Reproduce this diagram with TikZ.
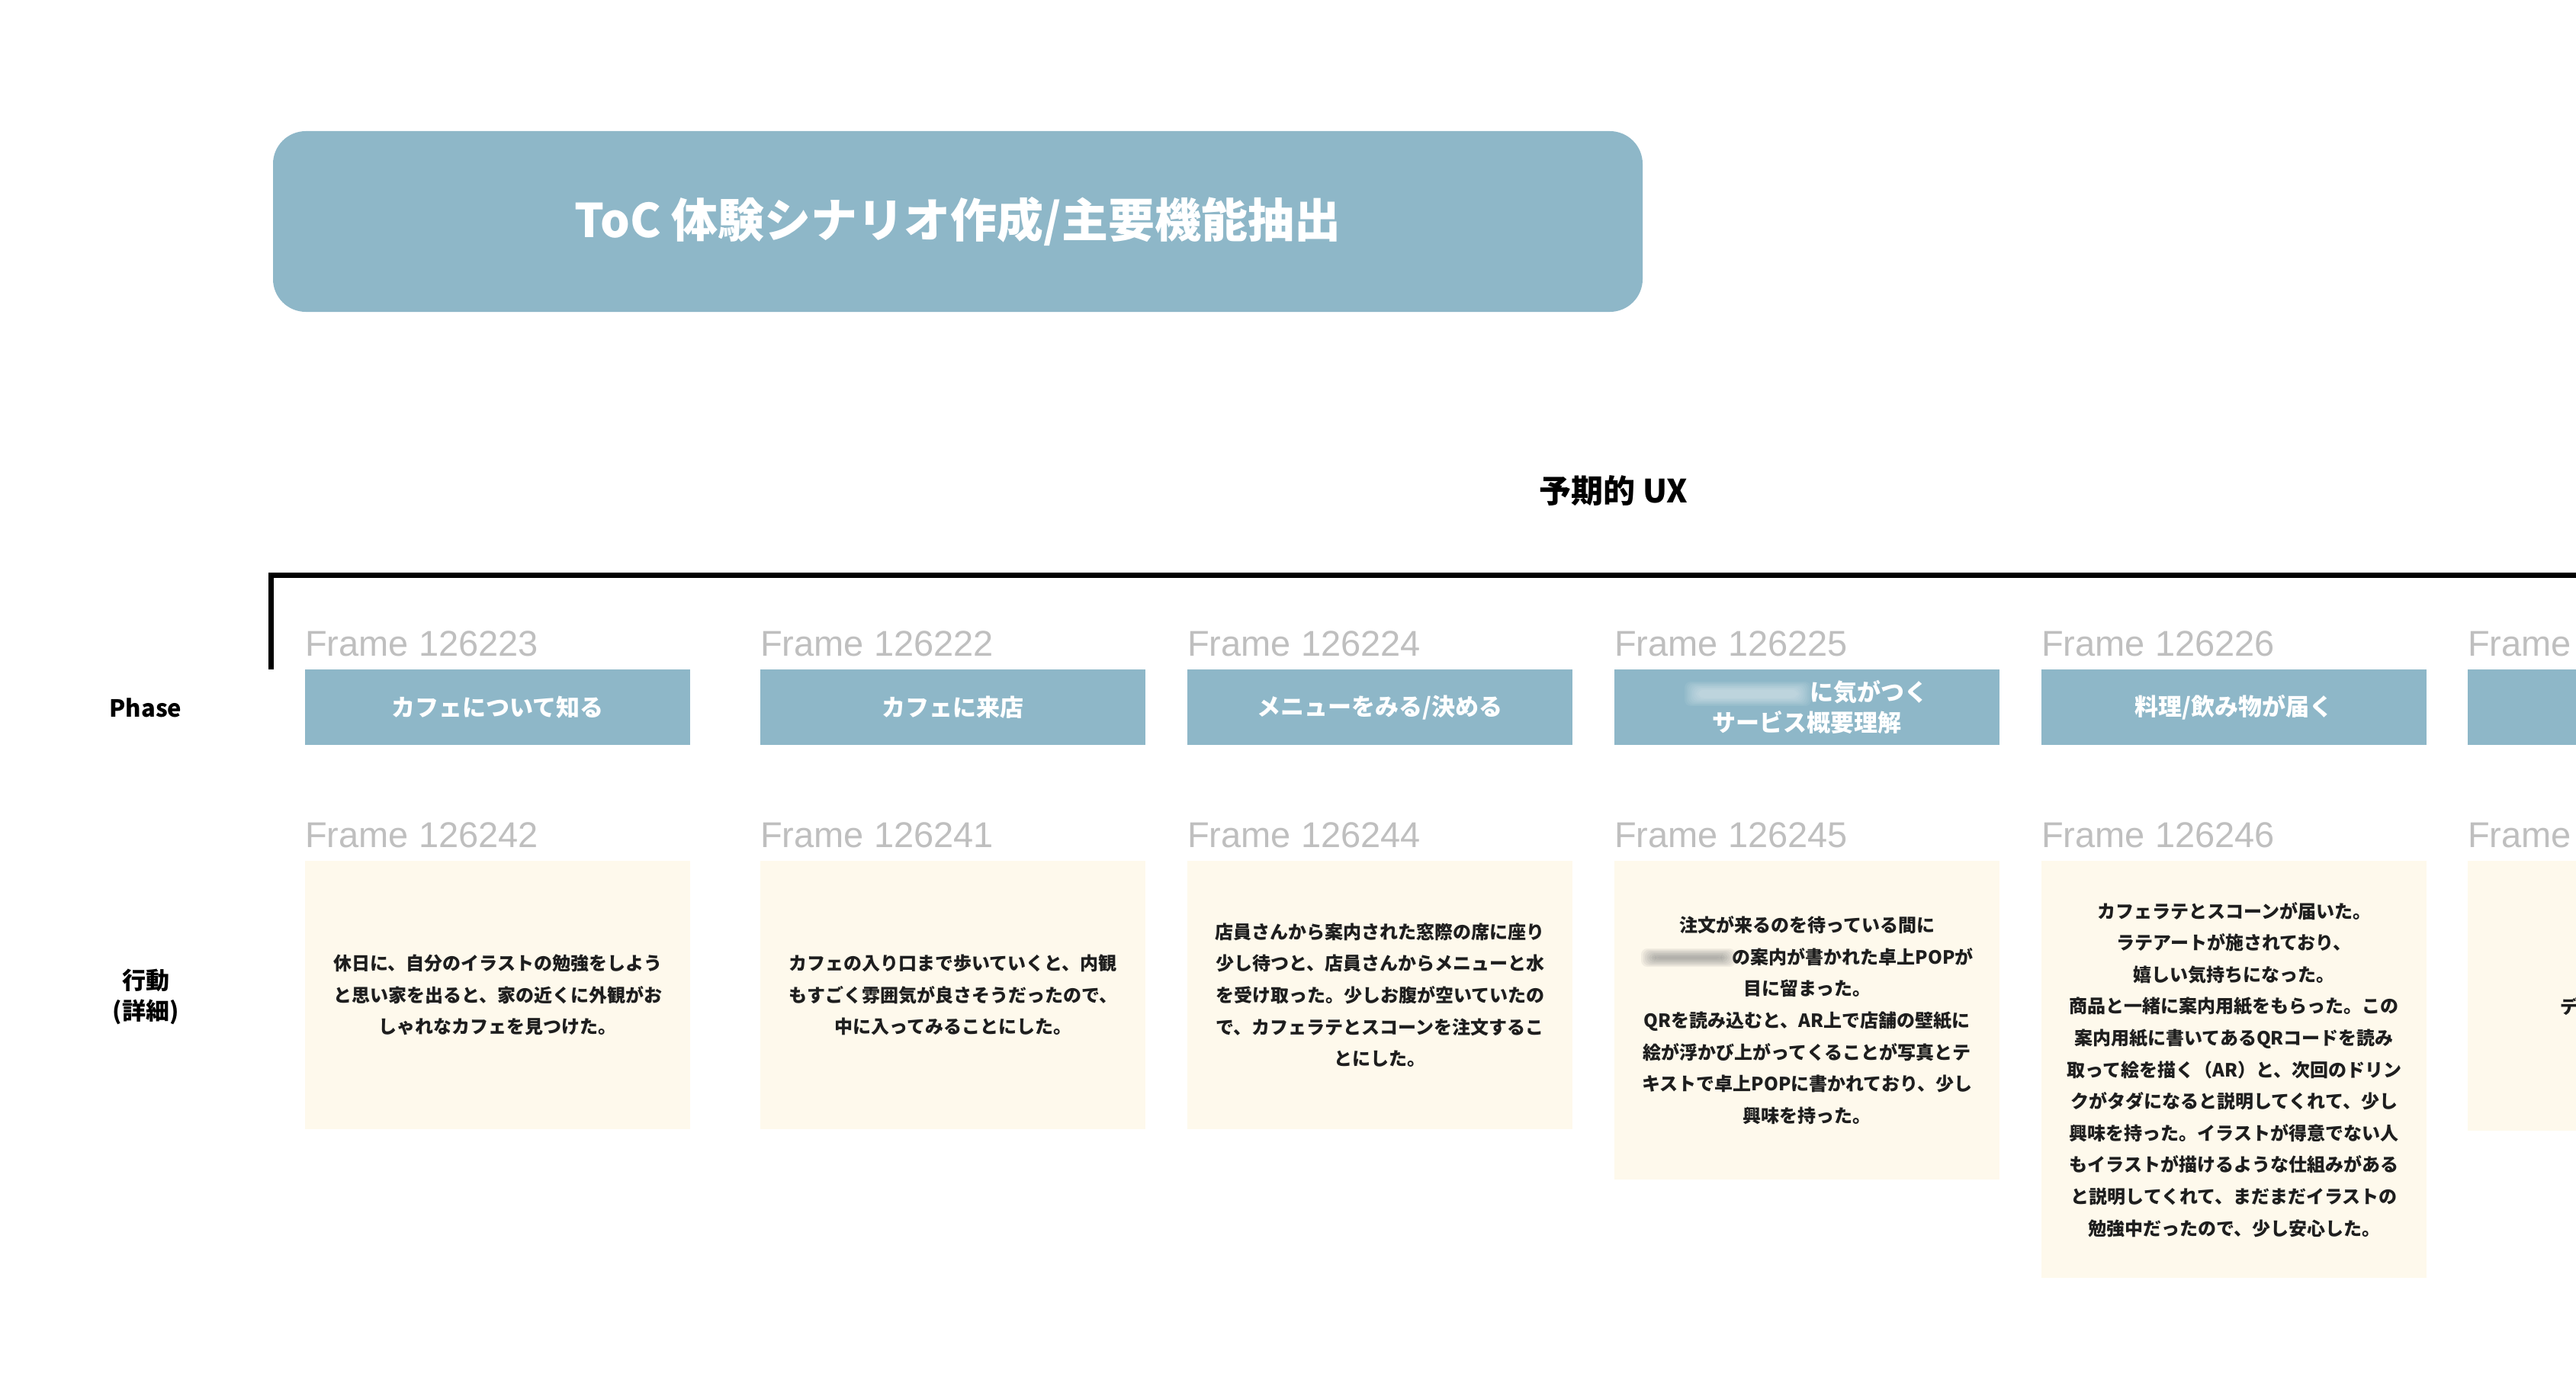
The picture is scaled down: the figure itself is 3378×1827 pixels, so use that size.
\documentclass[tikz,border=0pt]{standalone}
\usepackage{fontspec}
\setmainfont{Noto Sans CJK JP}
\newfontfamily\framefont{Liberation Sans}
\definecolor{phaseblue}{HTML}{8EB7C8}
\definecolor{cream}{HTML}{FEF9EC}
\definecolor{framegray}{HTML}{BFBFBF}
\definecolor{acttext}{HTML}{1E1E1E}
\tikzset{
  titlebox/.style={fill=phaseblue, rounded corners=43pt, minimum width=1796pt, minimum height=237pt, inner sep=0pt, text=white, font=\fontsize{61}{70}\selectfont\bfseries},
  phasebox/.style={fill=phaseblue, minimum width=505pt, minimum height=99pt, inner sep=0pt, anchor=north west, text=white, align=center, font=\fontsize{31}{40}\selectfont\bfseries},
  actbox/.style={fill=cream, minimum width=505pt, inner sep=0pt, anchor=north west, text=acttext, align=center, font=\fontsize{24}{41.6}\selectfont\bfseries},
  framelbl/.style={anchor=base west, inner sep=0pt, text=framegray, font=\framefont\fontsize{47}{50}\selectfont},
  rowlbl/.style={inner sep=0pt, align=center, text=black, font=\fontsize{31}{40}\selectfont\bfseries},
  bracket/.style={line width=7pt, black, line join=miter},
}
\newcommand{\blurblob}[6]{%
  \foreach \k in {0,1,2,3,4,5,6,7}{%
    \fill[#5, opacity=#6, rounded corners=8pt]
      ({#1-#3/2+\k*2.5}, {#2-#4/2+\k*1.5}) rectangle ({#1+#3/2-\k*2.5}, {#2+#4/2-\k*1.5});
  }%
}
\begin{document}
\begin{tikzpicture}[x=1pt,y=-1pt]
\useasboundingbox (0,0) rectangle (3378,1827);
\fill[white] (0,0) rectangle (3378,1827);

% title
\node[titlebox] (title) at (1256,290.5) {ToC 体験シナリオ作成/主要機能抽出};
\node[inner sep=0pt, font=\fontsize{42}{50}\selectfont\bfseries] (ux) at (2116,644) {予期的 UX};

% bracket
\coordinate (bk0) at (355,878);
\coordinate (bk1) at (355,754);
\coordinate (bk2) at (3400,754);
\draw[bracket] (bk0) -- (bk1) -- (bk2);

% row labels
\node[rowlbl] (phaselbl) at (191,928) {Phase};
\node[rowlbl] (actlbl) at (191,1307) {行動\\(詳細)};

% frame labels row 1
\node[framelbl] (fa1) at (400,860) {Frame 126223};
\node[framelbl] (fa2) at (997,860) {Frame 126222};
\node[framelbl] (fa3) at (1557,860) {Frame 126224};
\node[framelbl] (fa4) at (2117,860) {Frame 126225};
\node[framelbl] (fa5) at (2677,860) {Frame 126226};
\node[framelbl] (fa6) at (3236,860) {Frame};

% phase boxes
\node[phasebox] (p1) at (400,878) {カフェについて知る};
\node[phasebox] (p2) at (997,878) {カフェに来店};
\node[phasebox] (p3) at (1557,878) {メニューをみる/決める};
\node[phasebox] (p4) at (2117,878) {\hbox to 162pt{}に気がつく\\サービス概要理解};
\node[phasebox] (p5) at (2677,878) {料理/飲み物が届く};
\node[phasebox] (p6) at (3236,878) {};
\blurblob{2292}{910}{166}{32}{white}{0.07}

% frame labels row 2
\node[framelbl] (fb1) at (400,1111) {Frame 126242};
\node[framelbl] (fb2) at (997,1111) {Frame 126241};
\node[framelbl] (fb3) at (1557,1111) {Frame 126244};
\node[framelbl] (fb4) at (2117,1111) {Frame 126245};
\node[framelbl] (fb5) at (2677,1111) {Frame 126246};
\node[framelbl] (fb6) at (3236,1111) {Frame};

% action boxes
\node[actbox, minimum height=352pt] (a1) at (400,1129) {休日に、自分のイラストの勉強をしよう\\と思い家を出ると、家の近くに外観がお\\しゃれなカフェを見つけた。};
\node[actbox, minimum height=352pt] (a2) at (997,1129) {カフェの入り口まで歩いていくと、内観\\もすごく雰囲気が良さそうだったので、\\中に入ってみることにした。};
\node[actbox, minimum height=352pt] (a3) at (1557,1129) {店員さんから案内された窓際の席に座り\\少し待つと、店員さんからメニューと水\\を受け取った。少しお腹が空いていたの\\で、カフェラテとスコーンを注文するこ\\とにした。};
\node[actbox, minimum height=418pt] (a4) at (2117,1129) {注文が来るのを待っている間に\\\hbox to 120pt{}の案内が書かれた卓上POPが\\目に留まった。\\QRを読み込むと、AR上で店舗の壁紙に\\絵が浮かび上がってくることが写真とテ\\キストで卓上POPに書かれており、少し\\興味を持った。};
\node[actbox, minimum height=547pt] (a5) at (2677,1129) {カフェラテとスコーンが届いた。\\ラテアートが施されており、\\嬉しい気持ちになった。\\商品と一緒に案内用紙をもらった。この\\案内用紙に書いてあるQRコードを読み\\取って絵を描く（AR）と、次回のドリン\\クがタダになると説明してくれて、少し\\興味を持った。イラストが得意でない人\\もイラストが描けるような仕組みがある\\と説明してくれて、まだまだイラストの\\勉強中だったので、少し安心した。};
\node[actbox, minimum height=354pt] (a6) at (3236,1129) {};
\node[anchor=west, inner sep=0pt, text=acttext, font=\fontsize{24}{30}\selectfont\bfseries] (a6t) at (3357,1320) {デ};
\blurblob{2214}{1256}{124}{24}{gray}{0.1}
\end{tikzpicture}
\end{document}
